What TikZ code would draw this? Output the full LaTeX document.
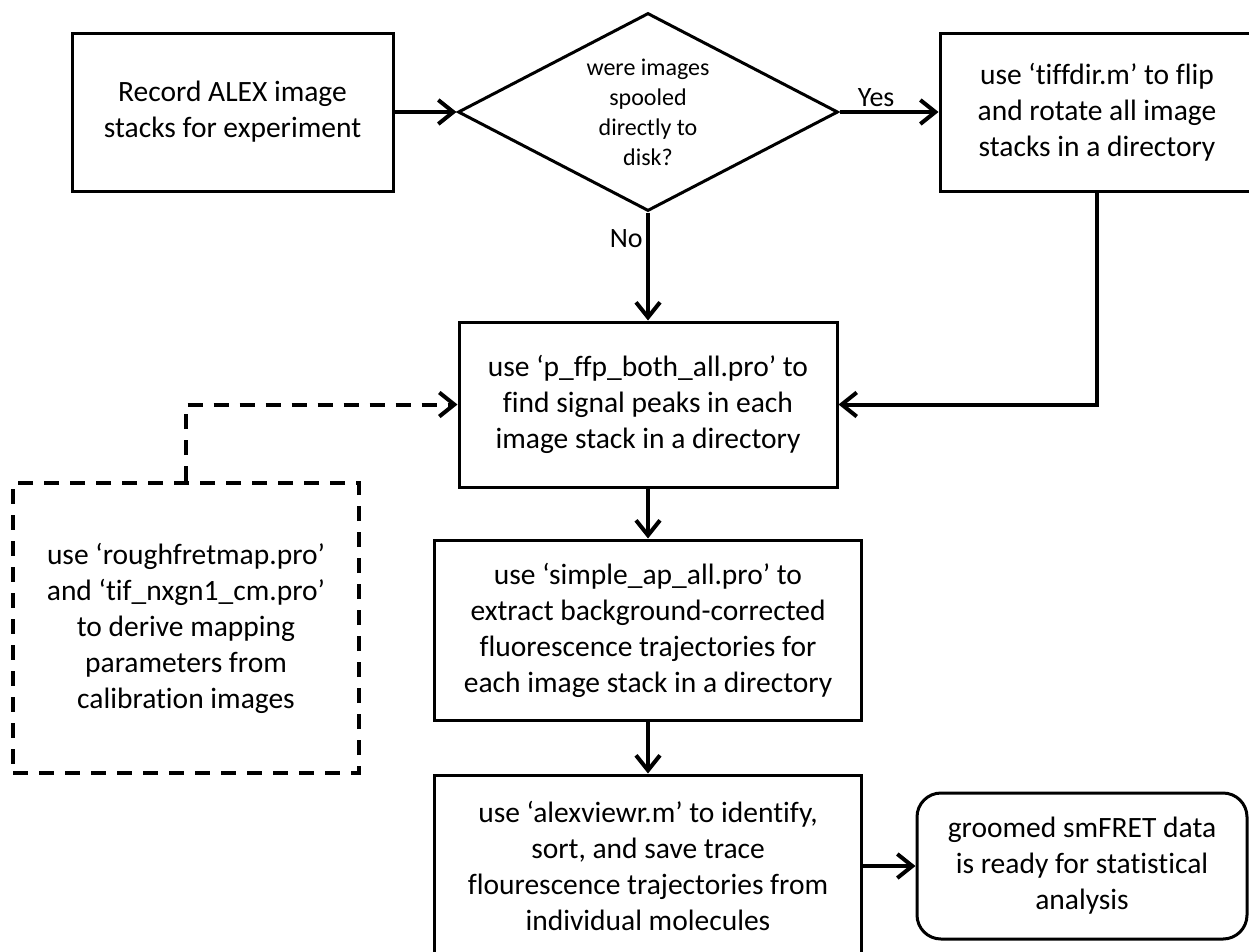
\documentclass[tikz,border=0pt]{standalone}
\usepackage{fontspec}
\setmainfont{Carlito}[Ligatures={TeX,NoCommon}]
\usepackage{tikz}
\usetikzlibrary{arrows.meta,shapes.geometric}

\begin{document}
\begin{tikzpicture}[->,>={Straight Barb[length=15pt,width=24pt]},line width=4pt,
                    x=1pt,y=-1pt]
  \tikzstyle{block}=[draw,rectangle,line width=3pt,align=center,inner sep=0pt,
                     font=\fontsize{29.5}{36}\selectfont]
  \tikzstyle{decision}=[draw,diamond,aspect=1.92,line width=3pt,align=center,
                        inner sep=0pt,font=\fontsize{24}{30}\selectfont]
  \tikzstyle{calib}=[block,line width=4pt,dash pattern=on 15pt off 11pt]
  \tikzstyle{done}=[block,rounded corners=24pt]
  \tikzstyle{answer}=[font=\fontsize{28}{34}\selectfont]

  \useasboundingbox (0,0) rectangle (1249,951);

  \node[block,minimum width=321pt,minimum height=158pt] (rec) at (232.5,112)
    {Record ALEX image\\stacks for experiment};
  \node[decision,minimum width=380pt,minimum height=198pt] (dec) at (648,112)
    {were images\\spooled\\directly to\\disk?};
  \node[block,minimum width=314pt,minimum height=158pt] (tiff) at (1097,112)
    {use `tiffdir.m' to flip\\and rotate all image\\stacks in a directory};
  \node[block,minimum width=378pt,minimum height=165pt] (ffp) at (648,404.5)
    {use `p\_ffp\_both\_all.pro' to\\find signal peaks in each\\image stack in a directory};
  \node[calib,minimum width=346pt,minimum height=290pt] (map) at (186,628)
    {use `roughfretmap.pro'\\and `tif\_nxgn1\_cm.pro'\\to derive mapping\\parameters from\\calibration images};
  \node[block,minimum width=427pt,minimum height=180pt] (ap) at (648,630)
    {use `simple\_ap\_all.pro' to\\extract background-corrected\\fluorescence trajectories for\\each image stack in a directory};
  \node[block,minimum width=427pt,minimum height=182pt] (viewr) at (648,866)
    {use `alexviewr.m' to identify,\\sort, and save trace\\flourescence trajectories from\\individual molecules};
  \node[done,minimum width=330pt,minimum height=146pt] (groom) at (1082,866)
    {groomed smFRET data\\is ready for statistical\\analysis};

  \path (rec) edge (dec)
        (dec) edge node[answer,above,pos=0.37] {Yes} (tiff)
        (dec) edge node[answer,left,pos=0.24] {No} (ffp)
        (ffp) edge (ap)
        (ap) edge (viewr)
        (viewr) edge (groom);
  \draw (tiff.south) |- (ffp.east);
  \draw[dash pattern=on 15pt off 11pt] (map.north) |- (ffp.west);
\end{tikzpicture}
\end{document}
